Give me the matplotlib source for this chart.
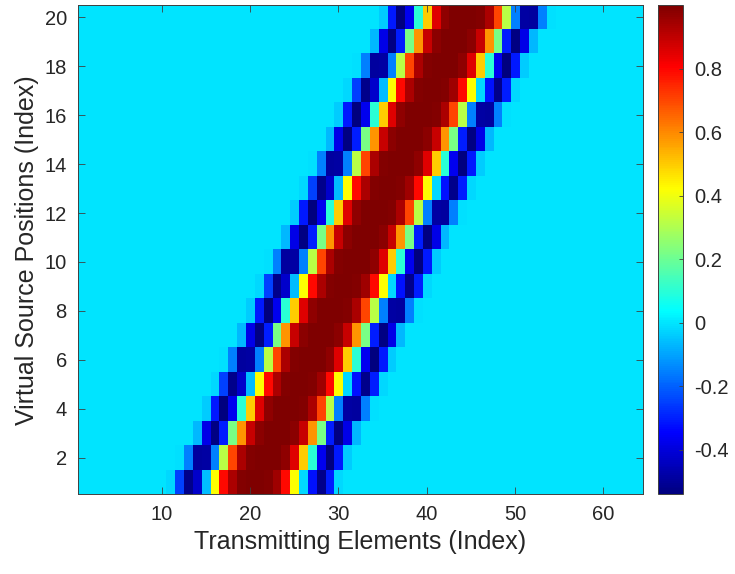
import numpy as np
import matplotlib
matplotlib.use("Agg")
from matplotlib import pyplot as plt
from matplotlib.colors import LinearSegmentedColormap

plt.rcParams['font.family'] = ['Liberation Sans', 'DejaVu Sans']

N_ELEM = 64
N_POS = 20

# four row shapes seen in the picture (they repeat every 4 rows, 5 columns further right)
row_a = [-0.02, -0.25, -0.52, -0.42, -0.06, 0.42, 0.79, 0.93, 0.99, 1.0,
         1.0, 0.99, 0.95, 0.79, 0.42, -0.02, -0.32, -0.52, -0.30, -0.02]
row_b = [-0.01, -0.15, -0.49, -0.48, -0.15, 0.32, 0.70, 0.93, 0.99, 1.0,
         1.0, 1.0, 0.97, 0.85, 0.50, 0.10, -0.37, -0.54, -0.31, -0.04]
row_c = [-0.07, -0.38, -0.53, -0.30, 0.22, 0.58, 0.89, 0.98, 1.0, 1.0,
         1.0, 0.98, 0.89, 0.58, 0.22, -0.30, -0.53, -0.38, -0.07]
row_d = [-0.04, -0.31, -0.54, -0.37, 0.10, 0.50, 0.85, 0.97, 1.0, 1.0,
         1.0, 0.99, 0.93, 0.70, 0.32, -0.15, -0.48, -0.49, -0.15, -0.01]

row_shape = [row_a, row_b, row_c, row_d] * 5
# first non-zero transmitting element of each virtual source row (1-based)
row_start = [11, 12, 14, 15, 16, 17, 19, 20, 21, 22,
             24, 25, 26, 27, 29, 30, 31, 32, 34, 35]

x_ticks = [10, 20, 30, 40, 50, 60]
y_ticks = [2, 4, 6, 8, 10, 12, 14, 16, 18, 20]
cb_ticks = [-0.4, -0.2, 0, 0.2, 0.4, 0.6, 0.8]

data = np.zeros((N_POS, N_ELEM))
for r in range(N_POS):
  s = row_start[r] - 1
  vals = row_shape[r]
  data[r, s:s + len(vals)] = vals

# matlab style jet
jet = LinearSegmentedColormap.from_list('mjet', [
  (0.0, (0, 0, 0.5)), (0.125, (0, 0, 1)), (0.375, (0, 1, 1)),
  (0.625, (1, 1, 0)), (0.875, (1, 0, 0)), (1.0, (0.5, 0, 0))], N=256)

fig = plt.figure(figsize=(7.35, 5.74), dpi=100)
ax = fig.add_axes([0.106, 0.139, 0.769, 0.852])
im = ax.imshow(data, cmap=jet, origin='lower', aspect='auto',
               interpolation='nearest', extent=[0.5, N_ELEM + 0.5, 0.5, N_POS + 0.5],
               vmin=data.min(), vmax=data.max())
ax.set_xticks(x_ticks)
ax.set_yticks(y_ticks)
txt = '#262626'
ax.tick_params(direction='in', length=5, width=0.6, top=True, right=True,
               labelsize=14.5, colors='#404040', labelcolor=txt, pad=8)
for sp in ax.spines.values():
  sp.set_color('#404040')
  sp.set_linewidth(0.7)
ax.set_xlabel('Transmitting Elements (Index)', fontsize=18, color=txt, labelpad=4)
ax.set_ylabel('Virtual Source Positions (Index)', fontsize=18, color=txt, labelpad=4)

cax = fig.add_axes([0.895, 0.139, 0.034, 0.852])
cb = fig.colorbar(im, cax=cax, ticks=cb_ticks)
cb.ax.set_yticklabels(['-0.4', '-0.2', '0', '0.2', '0.4', '0.6', '0.8'])
cb.ax.tick_params(direction='in', length=3, width=0.6, labelsize=14.5,
                  colors='#404040', labelcolor=txt, pad=8)
cb.outline.set_edgecolor('#404040')
cb.outline.set_linewidth(0.7)

plt.savefig('out.png', dpi=100)
